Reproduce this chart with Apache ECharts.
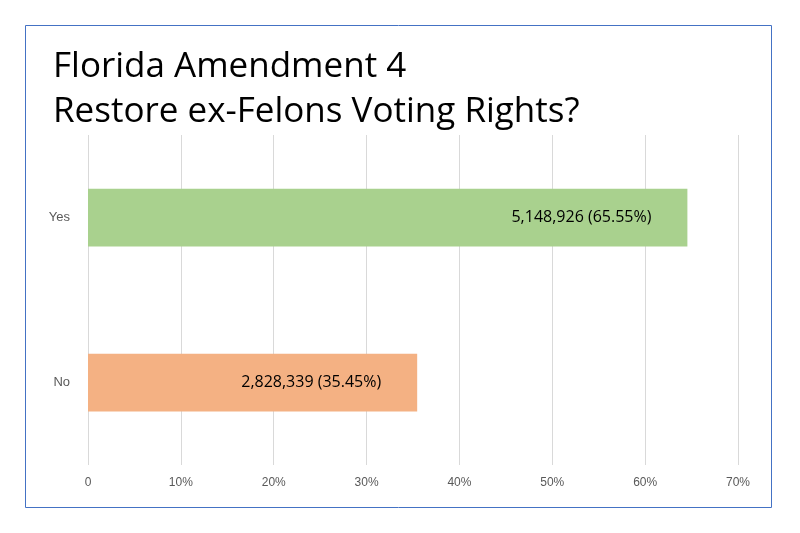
<!DOCTYPE html>
<html><head><meta charset="utf-8">
<script src="https://cdn.jsdelivr.net/npm/echarts@6/dist/echarts.min.js"></script>
<style>html,body{margin:0;padding:0;background:#fff}#c{width:800px;height:533px}</style>
</head><body><div id="c"></div>
<script>
const categories = ['No', 'Yes'];
const percents = [35.45, 64.55];
const labels = ['2,828,339 (35.45%)', '5,148,926 (65.55%)'];
const colors = ['#f4b183', '#a9d18e'];
const xTicks = [0, 10, 20, 30, 40, 50, 60, 70];

const chart = echarts.init(document.getElementById('c'));
chart.setOption({
  animation: false,
  graphic: [{type:'rect', shape:{x:25.5,y:25.5,width:746,height:482}, style:{fill:'none', stroke:'#4472c4', lineWidth:1}}],
  title: {text: 'Florida Amendment 4\nRestore ex-Felons Voting Rights?', left: 48, top: 40,
    textStyle: {fontFamily: 'Open Sans, sans-serif', fontSize: 35, fontWeight: 'normal', color: '#000', lineHeight: 45}},
  grid: {left: 88, right: 62, top: 135, bottom: 68},
  xAxis: {type: 'value', min: 0, max: 70, interval: 10,
    axisLine: {show: false}, axisTick: {show: false},
    splitLine: {lineStyle: {color: '#d9d9d9'}},
    axisLabel: {color: '#595959', fontSize: 12, margin: 12, formatter: v => xTicks.includes(v) ? (v === 0 ? '0' : v + '%') : ''}},
  yAxis: {type: 'category', data: categories,
    axisLine: {show: false}, axisTick: {show: false},
    axisLabel: {color: '#595959', fontSize: 13, margin: 18}},
  series: [{type: 'bar', barWidth: '35%',
    data: percents.map((v, i) => ({value: v, itemStyle: {color: colors[i]},
      label: {show: true, position: 'insideRight', distance: 36, formatter: labels[i], color: '#000', fontSize: 16, fontFamily: 'Open Sans, sans-serif'}}))}]
});
</script></body></html>
